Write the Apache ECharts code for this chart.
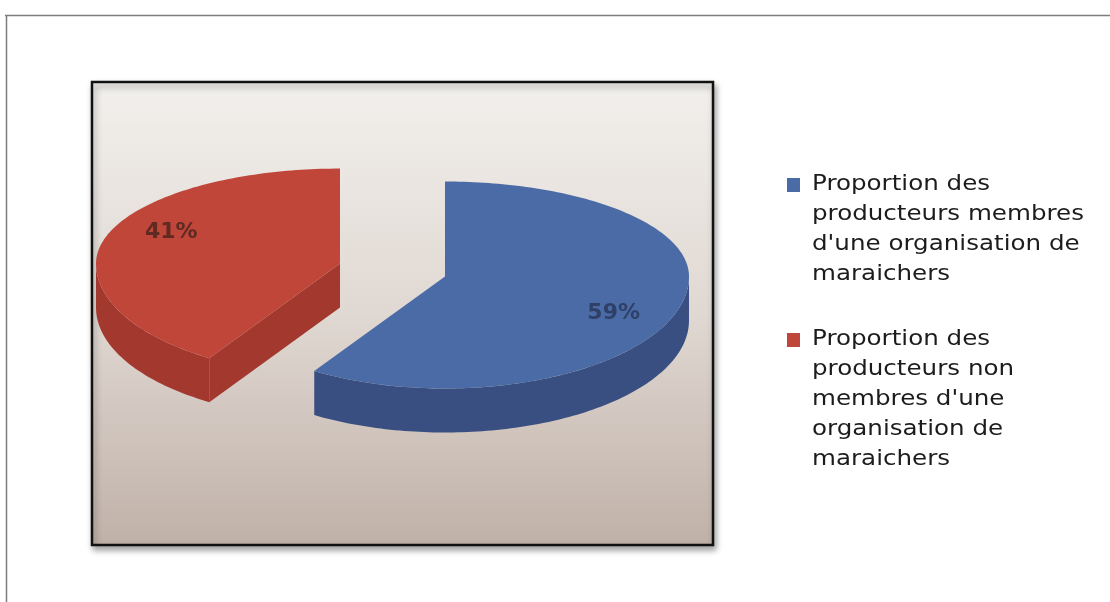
<!DOCTYPE html>
<html>
<head>
<meta charset="utf-8">
<script src="https://cdn.jsdelivr.net/npm/echarts@6/dist/echarts.min.js"></script>
<style>
html,body{margin:0;padding:0;background:#ffffff;}
#chart{width:1110px;height:602px;}
</style>
</head>
<body>
<div id="chart"></div>
<script>
// ---- data ----
const categories = [
  "Proportion des producteurs membres d'une organisation de maraichers",
  "Proportion des producteurs non membres d'une organisation de maraichers"
];
const values = [59, 41];
const percentLabels = ['59%', '41%'];
const legendLines = [
  ['Proportion des', 'producteurs membres', "d'une organisation de", 'maraichers'],
  ['Proportion des', 'producteurs non', "membres d'une", 'organisation de', 'maraichers']
];
const topColors = ['#4b6ba6', '#c1463a'];
const wallColors = ['#394f82', '#a2382e'];
const labelColors = ['#2f4068', '#5e2a22'];

// ---- geometry (layout/style) ----
const CX = 392.5, CY = 269.5, RX = 244, RY_BACK = 95, RY_FRONT = 112, DEPTH = 44, EXPLODE = 0.224;
const total = values.reduce((a, b) => a + b, 0);
const starts = [];
values.reduce((acc, v, i) => { starts[i] = acc; return acc + v; }, 0);

function ry(th) { return Math.cos(th) > 0 ? RY_BACK : RY_FRONT; }
function P(cx, cy, th, dy) {
  return [cx + RX * Math.sin(th), cy - ry(th) * Math.cos(th) + (dy || 0)];
}
function arc(cx, cy, a, b, dy) {
  const n = Math.max(2, Math.ceil(Math.abs(b - a) / 0.02));
  const pts = [];
  for (let k = 0; k <= n; k++) pts.push(P(cx, cy, a + (b - a) * k / n, dy));
  return pts;
}

function renderItem(params, api) {
  const i = params.dataIndex;
  const v = api.value(0);
  const a0 = starts[i] / total * Math.PI * 2;
  const a1 = a0 + v / total * Math.PI * 2;
  const mid = (a0 + a1) / 2;
  const cx = CX + EXPLODE * RX * Math.sin(mid);
  const cy = CY - EXPLODE * ry(mid) * Math.cos(mid);
  const children = [];
  // outer wall (front half)
  const s = Math.max(a0, Math.PI / 2), e = Math.min(a1, Math.PI * 1.5);
  if (e > s) {
    const pts = arc(cx, cy, s, e, 0).concat(arc(cx, cy, e, s, DEPTH));
    children.push({ type: 'polygon', shape: { points: pts }, style: { fill: wallColors[i] } });
  }
  // cut faces
  if (Math.sin(a0) < -1e-6) {
    const p = P(cx, cy, a0, 0), q = P(cx, cy, a0, DEPTH);
    children.push({ type: 'polygon', shape: { points: [[cx, cy], p, q, [cx, cy + DEPTH]] }, style: { fill: wallColors[i] } });
  }
  if (Math.sin(a1) > 1e-6) {
    const p = P(cx, cy, a1, 0), q = P(cx, cy, a1, DEPTH);
    children.push({ type: 'polygon', shape: { points: [[cx, cy], p, q, [cx, cy + DEPTH]] }, style: { fill: wallColors[i] } });
  }
  // top face
  const topPts = [[cx, cy]].concat(arc(cx, cy, a0, a1, 0));
  children.push({ type: 'polygon', shape: { points: topPts }, style: { fill: topColors[i] } });
  // label
  const lp = [cx + 0.72 * RX * Math.sin(mid), cy - 1.17 * ry(mid) * Math.cos(mid)];
  children.push({
    type: 'text', x: lp[0], y: lp[1],
    style: {
      text: percentLabels[i], fill: labelColors[i],
      font: 'bold 22px "DejaVu Sans"', align: 'center', verticalAlign: 'middle'
    }
  });
  return { type: 'group', children: children };
}

// legend graphics built from categories/lines
const legendGraphics = [];
const legendTops = [170, 325];
legendLines.forEach((lines, i) => {
  legendGraphics.push({
    type: 'rect', left: 787, top: legendTops[i] + 8, z: 10,
    shape: { width: 13, height: 14 }, style: { fill: topColors[i] }
  });
  legendGraphics.push({
    type: 'text', x: 812, y: legendTops[i], z: 10, scaleX: 1.17,
    style: {
      text: lines.join('\n'), fill: '#1c1c1c',
      font: '21px "DejaVu Sans"', lineHeight: 30
    }
  });
});

const chart = echarts.init(document.getElementById('chart'), null, { renderer: 'canvas' });
chart.setOption({
  animation: false,
  backgroundColor: '#ffffff',
  graphic: [
    { type: 'line', z: 1, shape: { x1: 5, y1: 15.5, x2: 1110, y2: 15.5 }, style: { stroke: '#7e7e7e', lineWidth: 1.5 } },
    { type: 'line', z: 1, shape: { x1: 6.5, y1: 15, x2: 6.5, y2: 602 }, style: { stroke: '#7e7e7e', lineWidth: 1.5 } },
    {
      type: 'rect', z: 0,
      shape: { x: 92, y: 82, width: 621, height: 463 },
      style: {
        fill: new echarts.graphic.LinearGradient(0, 0, 0, 1, [
          { offset: 0, color: '#f2f0ed' },
          { offset: 0.5, color: '#e0d8d2' },
          { offset: 1, color: '#c0b1a8' }
        ]),
        stroke: '#111111', lineWidth: 2.5,
        shadowBlur: 6, shadowOffsetX: 2, shadowOffsetY: 4, shadowColor: 'rgba(0,0,0,0.35)'
      }
    }
  ].concat(legendGraphics),
  series: [{
    type: 'custom',
    coordinateSystem: 'none',
    name: 'Producteurs',
    z: 5,
    data: values.map((v, i) => ({ name: categories[i], value: [v] })),
    renderItem: renderItem
  }]
});
</script>
</body>
</html>
